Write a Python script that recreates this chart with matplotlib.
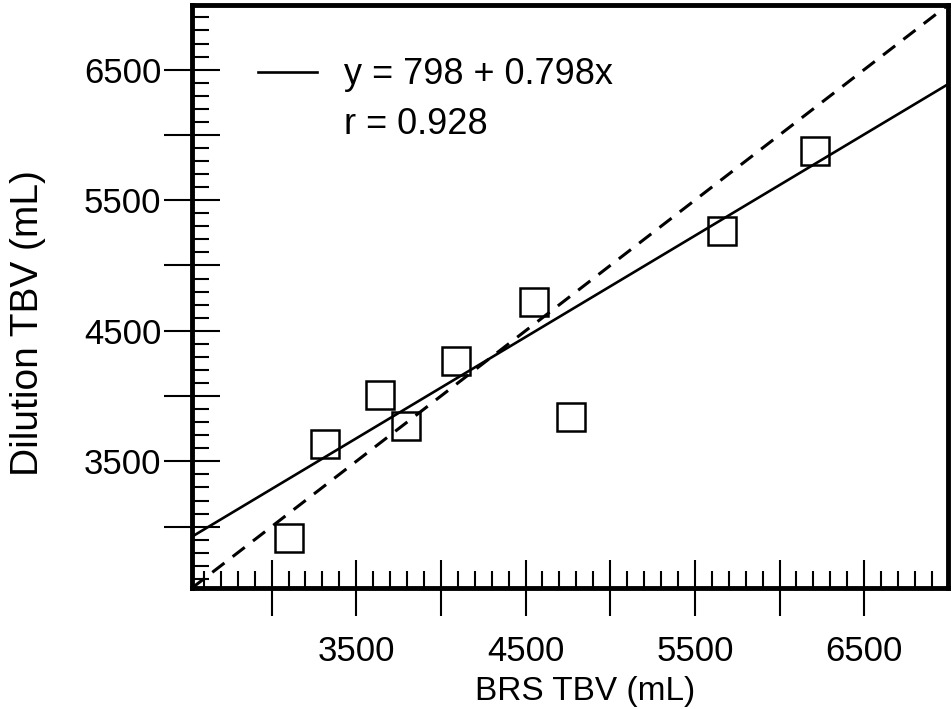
import matplotlib
matplotlib.use("Agg")
import matplotlib.pyplot as plt
from matplotlib.lines import Line2D
from matplotlib.ticker import MultipleLocator, FuncFormatter

plt.rcParams['font.family'] = ['Liberation Sans', 'DejaVu Sans']

# BRS vs dilution total blood volume (mL)
brs_tbv = [3100, 3317, 3641, 3793, 4090, 4550, 4771, 5663, 6207]
dilution_tbv = [2910, 3634, 4007, 3774, 4268, 4721, 3842, 5261, 5879]

# regression line as drawn, and the printed equation
fit_intercept = 960
fit_slope = 0.776
eq_text = "y = 798 + 0.798x"
r_text = "r = 0.928"

x_min, x_max = 2530, 6995
y_min, y_max = 2530, 6995

fig = plt.figure(figsize=(9.51, 7.09), dpi=100)
ax = fig.add_axes([192 / 951, 121 / 709, 756 / 951, 583 / 709])

# line of identity (dashes scale with linewidth)
ax.plot([x_min, x_max], [y_min, y_max], color='black', lw=2.2,
        linestyle=(0, (5, 3.4)))

fit_x = [x_min, x_max]
fit_y = [fit_intercept + fit_slope * v for v in fit_x]
fit_line, = ax.plot(fit_x, fit_y, color='black', lw=1.9)

ax.plot(brs_tbv, dilution_tbv, linestyle='none', marker='s', markersize=20,
        markerfacecolor='none', markeredgecolor='black', markeredgewidth=1.8)

ax.set_xlim(x_min, x_max)
ax.set_ylim(y_min, y_max)

def lab(v, pos):
    if int(round(v)) % 1000 == 500:
        return str(int(round(v)))
    return ""

for axis in (ax.xaxis, ax.yaxis):
    axis.set_major_locator(MultipleLocator(500))
    axis.set_minor_locator(MultipleLocator(100))
    axis.set_major_formatter(FuncFormatter(lab))

ax.tick_params(which='major', direction='inout', length=40, width=1.5,
               labelsize=25, top=False, right=False)
ax.tick_params(axis='y', which='major', pad=2)
ax.tick_params(axis='x', which='major', pad=14)
ax.tick_params(which='minor', direction='in', length=12.5, width=1.5,
               top=False, right=False)

for s in ax.spines.values():
    s.set_linewidth(3.5)

ax.set_xlabel("BRS TBV (mL)", fontsize=24, va='center')
ax.xaxis.set_label_coords(0.52, -0.178)
ax.set_ylabel("Dilution TBV (mL)", fontsize=28, va='center')
ax.yaxis.set_label_coords(-0.217, 0.455)

blank = Line2D([], [], linestyle='none')
ax.legend([fit_line, blank], [eq_text, r_text], loc='upper left',
          bbox_to_anchor=(0.087, 0.91), frameon=False, fontsize=26,
          handlelength=1.65, handletextpad=0.75, labelspacing=0.4,
          borderpad=0, borderaxespad=0)

fig.savefig("out.png", dpi=100)
